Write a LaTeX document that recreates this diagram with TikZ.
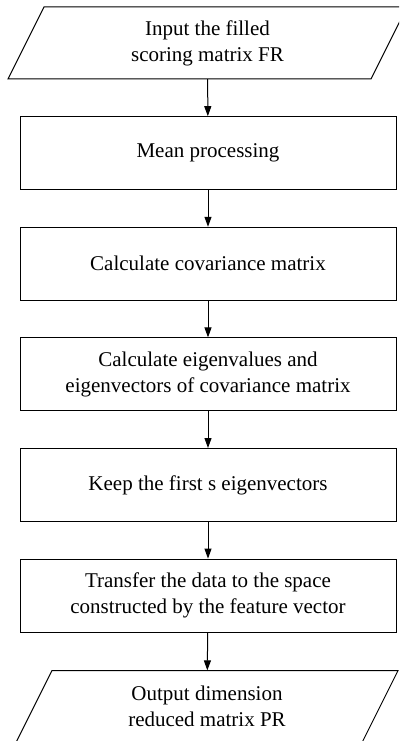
\documentclass[tikz,border=0pt]{standalone}
\usepackage{fontspec}
\setmainfont{Liberation Serif}
\usetikzlibrary{arrows.meta}
\tikzset{
  flowbox/.style={draw,line width=1pt,minimum width=376pt,minimum height=73pt,
    inner sep=0pt,align=center,font=\fontsize{21}{26}\selectfont},
  iotext/.style={minimum height=72pt,inner sep=0pt,align=center,
    font=\fontsize{21}{26}\selectfont},
  ioshape/.style={draw,line width=1pt,line join=miter},
  flowarrow/.style={line width=1pt,-{Triangle[length=10pt,width=7pt]}}
}
\begin{document}
\begin{tikzpicture}[x=1pt,y=-1pt]
\useasboundingbox (0,0) rectangle (399,741);
\clip (0,0) rectangle (399,741);
% input and output slanted boxes
\node[iotext] (input) at (207.5,43) {Input the filled\\scoring matrix FR};
\draw[ioshape] (input.center) ++(-199.5,36) -- ++(363,0) -- ++(36,-72) -- ++(-363,0) -- cycle;
\foreach \txt [count=\i] in {Mean processing,Calculate covariance matrix,{Calculate eigenvalues and\\eigenvectors of covariance matrix},Keep the first s eigenvectors,{Transfer the data to the space\\constructed by the feature vector}}
{
    \node[flowbox] (step\i) at (208,42.6+110.6*\i) {\txt};
}
\node[iotext] (output) at (207,706.6) {Output dimension\\reduced matrix PR};
\draw[ioshape] (output.center) ++(-191,36) -- ++(346,0) -- ++(36,-72) -- ++(-346,0) -- cycle;
% arrows
\draw[flowarrow] (input) -- (step1);
\foreach \i/\j in {1/2,2/3,3/4,4/5}
{
    \draw[flowarrow] (step\i) -- (step\j);
}
\draw[flowarrow] (step5) -- (output);
\end{tikzpicture}
\end{document}
